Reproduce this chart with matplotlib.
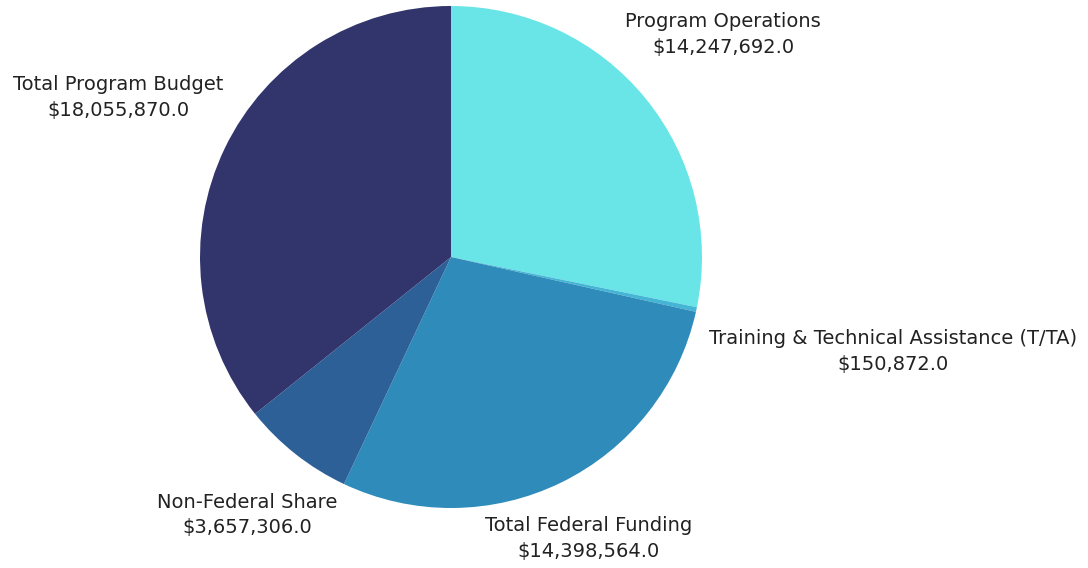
import matplotlib
matplotlib.use("Agg")
import matplotlib.pyplot as plt
import numpy as np

# data
categories = ['Program Operations', 'Training & Technical Assistance (T/TA)',
              'Total Federal Funding', 'Non-Federal Share', 'Total Program Budget']
values = [14247692.0, 150872.0, 14398564.0, 3657306.0, 18055870.0]
colors = ['#69E5E8', '#45B5D6', '#2E8BBA', '#2E6098', '#31356C']

# how far out each label sits (in pie radii)
label_dist = [1.40, 1.80, 1.25, 1.31, 1.47]

plt.rcParams['font.family'] = ['DejaVu Sans']

fig = plt.figure(figsize=(10.88, 5.68), dpi=100)
cx, cy, r = 451, 257, 251  # pixel centre / radius
ax = fig.add_axes([(cx - r) / 1088, (568 - cy - r) / 568, 2 * r / 1088, 2 * r / 568])

wedges, _ = ax.pie(values, colors=colors, startangle=90, counterclock=False,
                   radius=1, wedgeprops=dict(linewidth=0))
ax.set_xlim(-1, 1)
ax.set_ylim(-1, 1)
ax.set_aspect('equal')
ax.axis('off')

for w, name, val, d in zip(wedges, categories, values, label_dist):
    ang = np.deg2rad((w.theta1 + w.theta2) / 2)
    x, y = d * np.cos(ang), d * np.sin(ang)
    ax.text(x, y, f'{name}\n${val:,.1f}', ha='center', va='center',
            fontsize=14, color='#222222', linespacing=1.45, clip_on=False)

fig.savefig('out.png', dpi=100, facecolor='white')
